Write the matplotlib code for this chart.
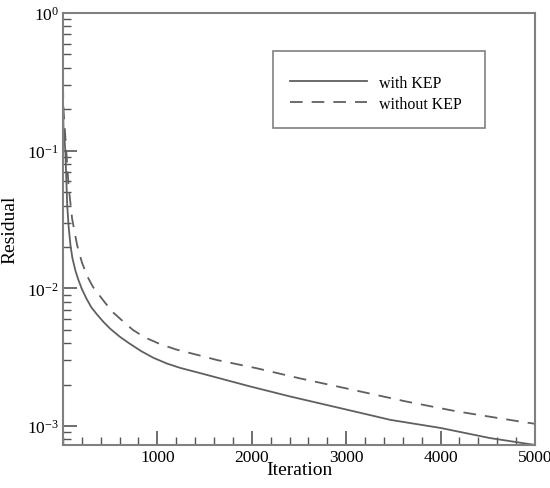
import matplotlib
matplotlib.use("Agg")
import matplotlib.pyplot as plt
from matplotlib.patches import Rectangle
from matplotlib.ticker import MultipleLocator, LogLocator, NullFormatter, FixedLocator

plt.rcParams['font.family'] = ['Liberation Serif', 'DejaVu Serif']
plt.rcParams['mathtext.fontset'] = 'stix'

iter_with = [0, 5, 25, 45, 60, 80, 100, 130, 160, 200, 250, 300, 362, 430, 500, 600, 700, 830,
             960, 1100, 1240, 1460, 1985, 2410, 2940, 3470, 4000, 4520, 5000]
res_with = [0.25, 0.15, 0.1, 0.04, 0.028, 0.0204, 0.0166, 0.0136, 0.0117, 0.0099, 0.0084, 0.0073,
            0.00645, 0.0057, 0.0051, 0.00447, 0.0040, 0.0035, 0.00313, 0.00285, 0.00265, 0.00242,
            0.00194, 0.00164, 0.00135, 0.00111, 0.00097, 0.00082, 0.00073]

iter_without = [0, 5, 35, 60, 97, 150, 200, 256, 320, 432, 520, 620, 740, 870, 1030, 1200, 1455,
                1632, 2055, 2500, 3000, 3635, 4171, 4841, 5000]
res_without = [0.3, 0.2, 0.1, 0.055, 0.032, 0.0206, 0.0155, 0.0123, 0.0102, 0.0081, 0.0068, 0.0059,
               0.0050, 0.0044, 0.00394, 0.0036, 0.00325, 0.00302, 0.00263, 0.00223, 0.00188,
               0.00151, 0.00128, 0.00108, 0.00104]

fig = plt.figure(figsize=(5.5, 4.89), dpi=100)
ax = fig.add_axes([0.1145, 0.088, 0.8582, 0.8834])

ax.semilogy(iter_with, res_with, color='#606060', lw=1.3, label='with KEP')
ax.semilogy(iter_without, res_without, color='#606060', lw=1.3, ls=(0, (7, 5)), label='without KEP')

ax.set_xlim(0, 5000)
ax.set_ylim(7.3e-4, 1)

ax.xaxis.set_major_locator(FixedLocator([1000, 2000, 3000, 4000, 5000]))
ax.xaxis.set_minor_locator(MultipleLocator(200))
ax.yaxis.set_major_locator(LogLocator(base=10))
ax.yaxis.set_minor_locator(LogLocator(base=10, subs=range(2, 10)))
ax.yaxis.set_minor_formatter(NullFormatter())

ax.tick_params(which='both', direction='in', top=False, right=False, color='#555555', labelsize=12.5, pad=3)
ax.tick_params(which='major', length=10, width=1.2)
ax.tick_params(which='minor', length=6, width=1.0)

for s in ax.spines.values():
    s.set_color('#808080')
    s.set_linewidth(1.5)

ax.set_xlabel('Iteration', fontsize=14, labelpad=-3)
ax.set_ylabel('Residual', fontsize=14, labelpad=6)

# legend frame drawn separately so the padding matches
ax.add_patch(Rectangle((0.445, 0.733), 0.449, 0.179, transform=ax.transAxes,
                       fill=False, edgecolor='#808080', lw=1.2, zorder=5))
ax.legend(loc='center left', bbox_to_anchor=(0.481, 0.814), borderaxespad=0, borderpad=0,
          fontsize=11.5, handlelength=4.8, labelspacing=0.3, handletextpad=0.8, frameon=False)

fig.savefig('out.png', dpi=100)
